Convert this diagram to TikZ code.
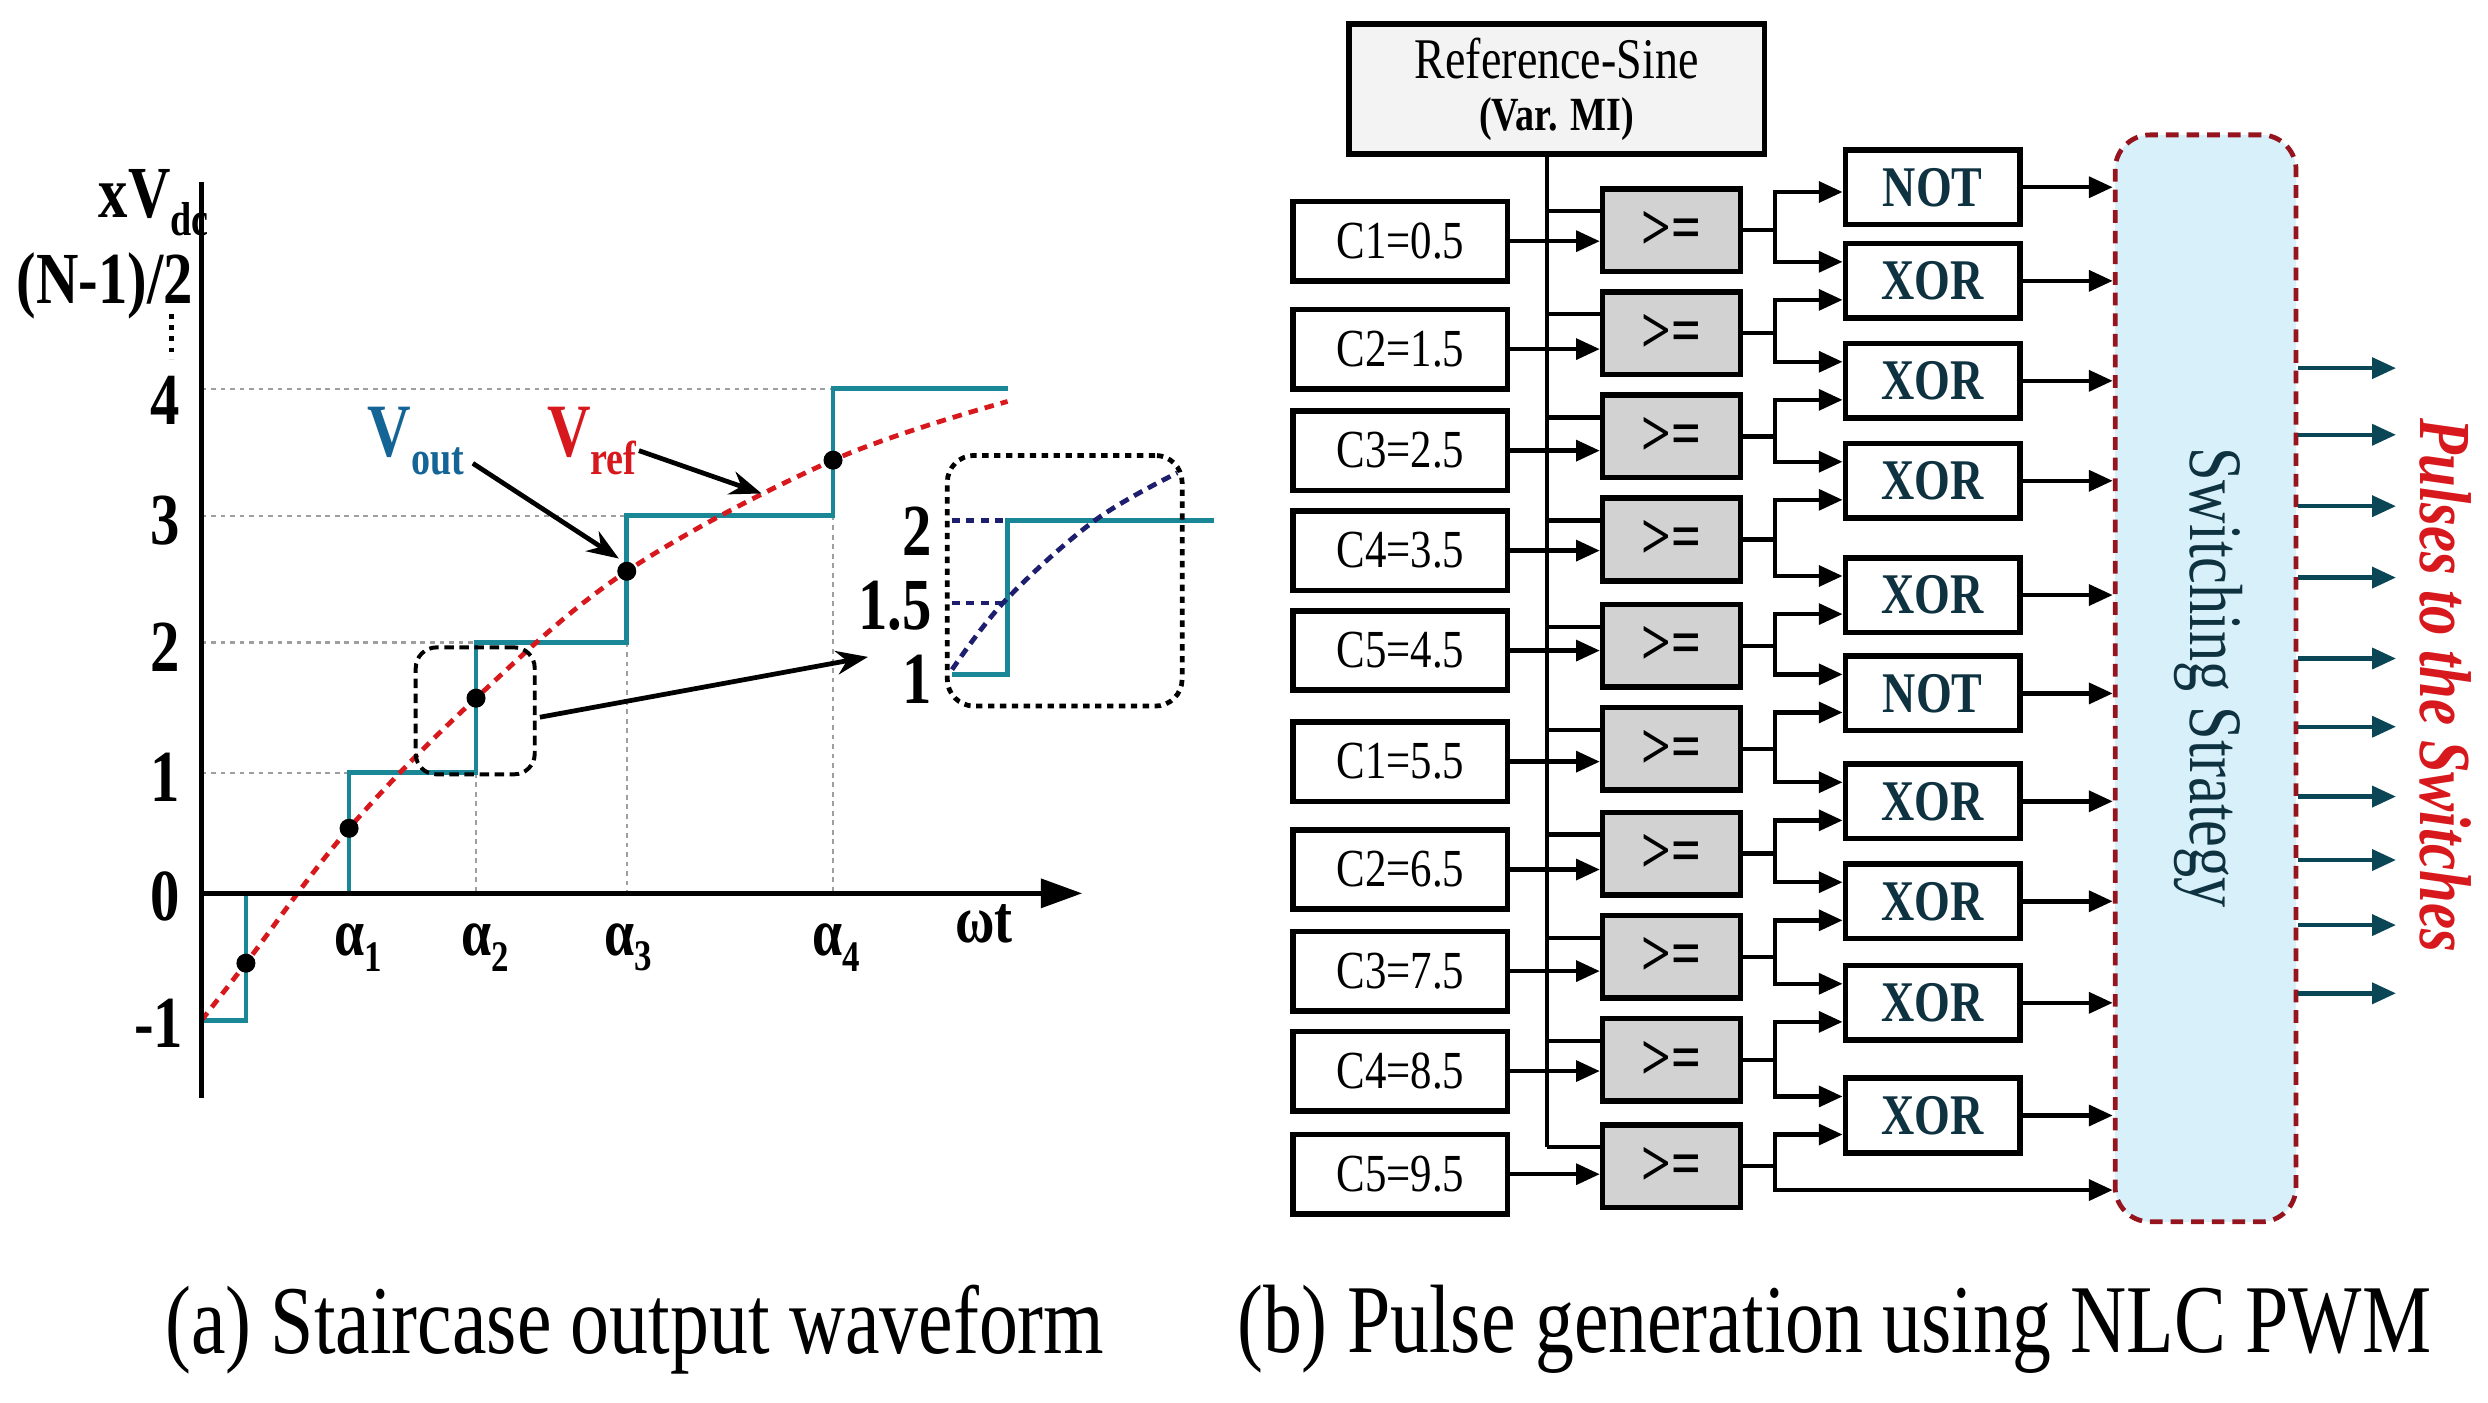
\documentclass[tikz,border=0pt]{standalone}
\usepackage{fontspec}
\setmainfont{Liberation Serif}
\usetikzlibrary{arrows.meta,calc}
\newcommand\fs[1]{\fontsize{#1}{#1}\selectfont}
\newcommand\tl[1]{\scalebox{1}[1.25]{#1}}
\definecolor{stepc}{RGB}{25,135,150}
\definecolor{voutc}{RGB}{20,100,150}
\definecolor{redc}{RGB}{215,25,30}
\definecolor{navyc}{RGB}{30,30,110}
\definecolor{gatetxt}{RGB}{15,50,65}
\definecolor{ssfill}{RGB}{215,240,250}
\definecolor{ssedge}{RGB}{150,20,30}
\definecolor{outc}{RGB}{10,70,85}
\definecolor{cmpfill}{RGB}{210,210,210}
\definecolor{reffill}{RGB}{243,243,243}
\begin{document}
\begin{tikzpicture}[x=1pt,y=-1pt,
  guide/.style={gray!75, line width=1.5pt, dash pattern=on 3pt off 3pt},
  stair/.style={stepc, line width=3pt},
  refcurve/.style={redc, line width=3pt, dash pattern=on 6pt off 4.5pt},
  bigarr/.style={line width=3pt, -{Stealth[length=20pt,width=15pt]}},
  lab/.style={font=\fs{37}\bfseries},
  wire/.style={line width=2.8pt},
  arr/.style={line width=2.8pt, -{Triangle[length=15pt,width=13pt]}},
  outarr/.style={line width=2.8pt, outc, -{Triangle[length=15pt,width=13pt]}},
  cbox/.style={draw, line width=3.5pt, fill=white, minimum width=135pt, minimum height=50pt, inner sep=0pt, font=\fs{27}},
  cmp/.style={draw, line width=3.5pt, fill=cmpfill, minimum width=87pt, minimum height=52pt, inner sep=0pt, font=\fs{33}\bfseries},
  gate/.style={draw, line width=3.5pt, fill=white, minimum width=110pt, minimum height=47pt, inner sep=0pt, font=\fs{29}\bfseries, text=gatetxt},
]
\useasboundingbox (0,0) rectangle (1568,884);

% ---------------- (a) staircase ----------------
\draw[guide] (127,245) -- (525,245);
\draw[guide] (127,325) -- (395,325);
\draw[guide] (127,405) -- (300,405);
\draw[guide] (127,487) -- (220,487);
\draw[guide] (300,487) -- (300,563);
\draw[guide] (395,405) -- (395,563);
\draw[guide] (525,325) -- (525,563);

\draw[stair] (127,643) -- (155,643) -- (155,563) -- (220,563) -- (220,487) -- (300,487) -- (300,405) -- (395,405) -- (395,325) -- (525,325) -- (525,245) -- (635,245);
\draw[refcurve] plot[smooth, tension=0.6] coordinates {(127,643) (155,607) (220,522) (300,440) (395,360) (525,290) (635,253)};
\foreach \p in {(155,607),(220,522),(300,440),(395,360),(525,290)}
  \fill \p circle (6pt);

\draw[line width=3pt] (127,115) -- (127,692);
\draw[line width=3pt, -{Triangle[length=26pt,width=18pt]}] (127,563) -- (682,563);

\node[lab, anchor=east] (ylab) at (135,128) {\tl{xV\raisebox{-9pt}{\fs{24}dc}}};
\node[lab] (nlab) at (66,180) {\tl{(N-1)/2}};
\draw[line width=3.5pt, dash pattern=on 3pt off 4pt] (108,198) -- (108,226);
\node[lab] (l4) at (104,252) {\tl{4}};
\node[lab] (l3) at (104,328) {\tl{3}};
\node[lab] (l2) at (104,408) {\tl{2}};
\node[lab] (l1) at (104,490) {\tl{1}};
\node[lab] (l0) at (104,565) {\tl{0}};
\node[lab] (lm1) at (100,645) {\tl{-1}};

\node[font=\fs{34}\bfseries] (a1) at (226,597) {\tl{α\raisebox{-8pt}{\fs{22}1}}};
\node[font=\fs{34}\bfseries] (a2) at (306,597) {\tl{α\raisebox{-8pt}{\fs{22}2}}};
\node[font=\fs{34}\bfseries] (a3) at (396,597) {\tl{α\raisebox{-8pt}{\fs{22}3}}};
\node[font=\fs{34}\bfseries] (a4) at (527,597) {\tl{α\raisebox{-8pt}{\fs{22}4}}};
\node[font=\fs{34}\bfseries] (wt) at (620,582) {\tl{ωt}};

\node[font=\fs{38}\bfseries, text=voutc] (vout) at (262,278) {\tl{V\raisebox{-9pt}{\fs{24}out}}};
\node[font=\fs{38}\bfseries, text=redc] (vref) at (373,278) {\tl{V\raisebox{-9pt}{\fs{24}ref}}};
\coordinate (voutend) at (390,352);
\coordinate (vrefend) at (480,311);
\draw[bigarr] (298,292) -- (voutend);
\draw[bigarr] (vref.east) ++(-2,6) -- (vrefend);

\node[draw, line width=2.5pt, dash pattern=on 6pt off 3.5pt, rounded corners=13pt, minimum width=75pt, minimum height=80pt, inner sep=0pt] (zbox) at (299.5,448) {};
\coordinate (zt) at (547,414);
\draw[bigarr] (zbox.east) ++(2,4) -- (zt);

% inset
\draw[stair] (600,425) -- (635,425) -- (635,328) -- (765,328);
\draw[navyc, line width=3pt, dash pattern=on 5pt off 4pt] (600,328) -- (633,328);
\draw[navyc, line width=3pt, dash pattern=on 5pt off 4pt] (600,380) -- (633,380);
\draw[navyc, line width=3pt, dash pattern=on 6pt off 4pt] plot[smooth, tension=0.6] coordinates {(600,422) (634,378) (690,328) (742,298)};
\node[draw, line width=3pt, dash pattern=on 4pt off 3.5pt, rounded corners=17pt, minimum width=148pt, minimum height=158pt, inner sep=0pt] (ibox) at (671,366) {};
\node[lab] (i2) at (578,335) {\tl{2}};
\node[lab] (i15) at (564,382) {\tl{1.5}};
\node[lab] (i1) at (578,428) {\tl{1}};

% ---------------- (b) pulse generation ----------------
\node[draw, line width=3.5pt, fill=reffill, minimum width=262pt, minimum height=82pt, inner sep=0pt] (ref) at (981,56) {};
\node[font=\fs{29}] (reft) at (981,37) {\tl{Reference-Sine}};
\node[font=\fs{24}\bfseries] (refmi) at (981,75) {\tl{(Var. MI)}};

\node[draw=ssedge, line width=3pt, dash pattern=on 8pt off 5pt, fill=ssfill, rounded corners=22pt, minimum width=114pt, minimum height=685pt, inner sep=0pt] (ss) at (1390,427.5) {};
\node[rotate=-90, font=\fs{38}, text=gatetxt] (sst) at (1392,427) {\tl{Switching Strategy}};
\node[rotate=-90, font=\fs{37}\bfseries\itshape, text=redc] (pul) at (1541,432) {\tl{Pulses to the Switches}};

\draw[wire] (ref.south -| 975,0) -- (975,723);

\foreach \i/\lab/\cy/\gy in {1/C1=0.5/152/145, 2/C2=1.5/220/210, 3/C3=2.5/284/275, 4/C4=3.5/347/340, 5/C5=4.5/410/407, 6/C1=5.5/480/472, 7/C2=6.5/548/538, 8/C3=7.5/612/603, 9/C4=8.5/675/668, 10/C5=9.5/740/735} {
  \node[cbox] (c\i) at (882.5,\cy) {\tl{\lab}};
  \node[cmp] (g\i) at (1053.5,\gy) {\tl{>=}};
  \draw[arr] (c\i.east) -- (c\i.east -| g\i.west);
  \draw[wire] (975,\gy-12) -- ($(g\i.west)+(0,-12)$);
  \draw[wire] (g\i.east) -- ++(20,0) coordinate (j\i);
}

\foreach \i/\lab/\y in {1/NOT/118, 2/XOR/177, 3/XOR/240, 4/XOR/303, 5/XOR/375, 6/NOT/437, 7/XOR/505, 8/XOR/568, 9/XOR/632, 10/XOR/703} {
  \node[gate] (G\i) at (1218,\y) {\tl{\lab}};
  \draw[arr] (G\i.east) -- (G\i.east -| ss.west);
}

\draw[arr] (j1) |- ($(G1.west)+(0,3)$);
\foreach \k in {2,...,10}
  \draw[arr] (j\k) |- ($(G\k.west)+(0,12)$);
\foreach \k [evaluate=\k as \n using int(\k+1)] in {1,...,9}
  \draw[arr] (j\k) |- ($(G\n.west)+(0,-12)$);
\coordinate (last) at (ss.west |- 0,750);
\draw[arr] (j10) |- (last);

\foreach \y in {232,274,319,364,415,458,502,542,583,626}
  \draw[outarr] (ss.east |- 0,\y) -- (1510,\y);

% captions
\node[font=\fs{49}] (capa) at (400,838) {\tl{(a) Staircase output waveform}};
\node[font=\fs{49}] (capb) at (1156,838) {\tl{(b) Pulse generation using NLC PWM}};
\end{tikzpicture}
\end{document}
